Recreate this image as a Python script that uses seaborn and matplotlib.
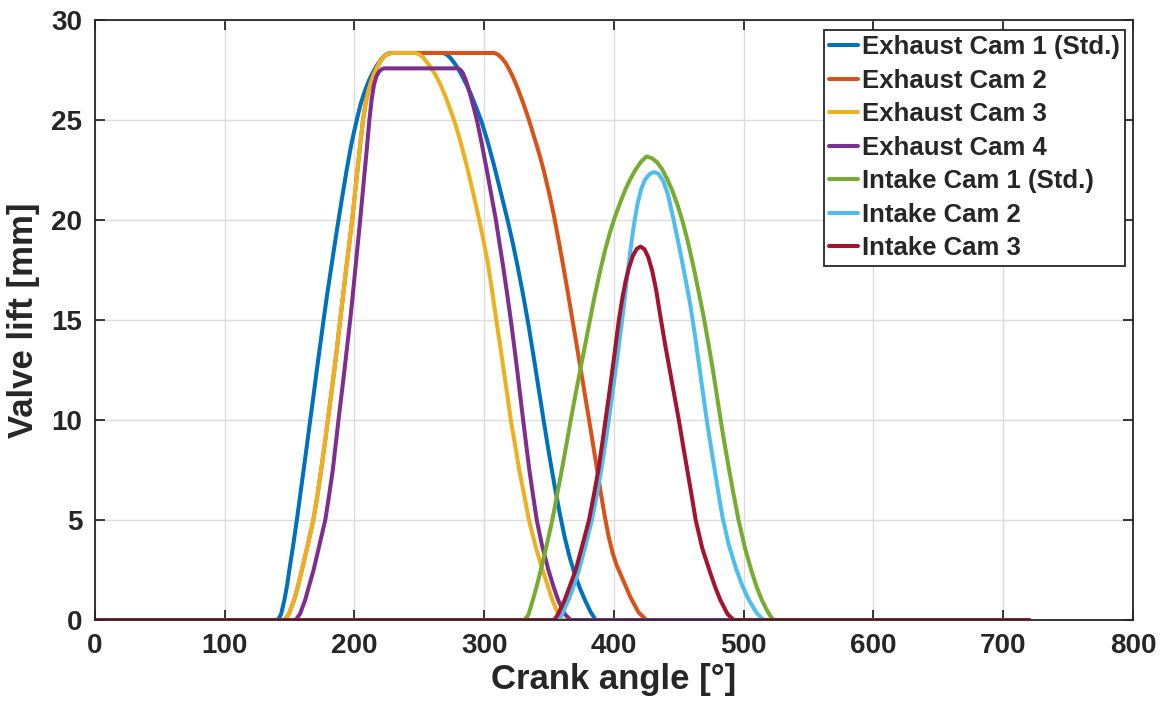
import matplotlib
matplotlib.use("Agg")
import matplotlib.pyplot as plt
from matplotlib.lines import Line2D
import pandas as pd
import seaborn as sns

# ---- valve lift profiles: crank angle [deg] vs lift [mm] ----
exh1_angle = [0, 141, 143.5, 146, 148, 149.8, 152.8, 155.6, 158.2, 160.8, 163.4, 165.9, 168.5,
              171, 173.6, 176.2, 178.9, 181.8, 184.7, 187.7, 190.8, 194, 197.5, 200, 202.5,
              205, 208, 211, 214, 217, 220, 223, 225.5, 228,
              268, 271, 274, 277, 280, 283, 286.5, 290, 294, 298, 302.5, 307.5, 312.5, 318,
              322, 326, 330, 334, 338, 342, 346, 350, 354, 358, 362, 366, 370, 374, 378,
              382, 386, 720]
exh1_lift = [0, 0, 0.3, 1.0, 1.7, 2.5, 3.75, 5, 6.25, 7.5, 8.75, 10, 11.25,
             12.5, 13.75, 15, 16.25, 17.5, 18.75, 20, 21.25, 22.5, 23.75, 24.5, 25.2,
             25.85, 26.45, 26.95, 27.35, 27.7, 27.98, 28.2, 28.31, 28.35,
             28.35, 28.28, 28.1, 27.85, 27.55, 27.2, 26.75, 26.25, 25.6, 24.9, 23.95, 22.75, 21.45, 20.0,
             18.85, 17.6, 16.25, 14.8, 13.2, 11.55, 9.9, 8.3, 6.8, 5.4, 4.15, 3.1, 2.25, 1.55, 0.95,
             0.4, 0, 0]

exh2_angle = [0, 146, 149.5, 153.5, 156.5, 159.5, 164, 168.3, 171.5, 174.3, 177, 179.5, 182,
              184.5, 186.8, 189, 191.3, 193.5, 195.9, 198.2, 200.3, 202.3, 204.4, 206.6, 208.5,
              210.5, 212.5, 215, 217.5, 220, 222.5, 225.5, 229,
              307.7, 310.5, 313.5, 316.5, 319.5, 322.5, 326, 330, 334, 338, 342, 346, 350,
              353.5, 357, 360.5, 364, 367.5, 371, 374.2, 377.4, 380.6, 383.7, 386.8, 389.9,
              393, 396, 399, 402, 405, 409, 413, 419, 425, 720]
exh2_lift = [0, 0, 0.3, 1.0, 1.7, 2.5, 3.75, 5, 6.25, 7.5, 8.75, 10, 11.25,
             12.5, 13.75, 15, 16.25, 17.5, 18.75, 20, 21.25, 22.5, 23.75, 25, 25.8,
             26.4, 26.85, 27.3, 27.65, 27.95, 28.15, 28.3, 28.35,
             28.35, 28.28, 28.1, 27.85, 27.5, 27.1, 26.55, 25.85, 25.1, 24.25, 23.4, 22.45, 21.35,
             20.3, 19.1, 17.85, 16.55, 15.2, 13.85, 12.6, 11.35, 10.1, 8.85, 7.6, 6.35,
             5.15, 4.15, 3.35, 2.75, 2.3, 1.7, 1.1, 0.38, 0, 0]

exh3_angle = [0, 146, 149.5, 153.5, 156.5, 159.5, 164, 168.3, 171.5, 174.3, 177, 179.5, 182,
              184.5, 186.8, 189, 191.3, 193.5, 195.9, 198.2, 200.3, 202.3, 204.4, 206.6, 208.5,
              210.5, 212.5, 215, 217.5, 220, 222.5, 225.5, 229,
              247, 250, 253, 256, 259, 262.5, 266, 270, 274, 277.7, 282, 287, 291.5, 296.2,
              299.5, 302.8, 306, 309.3, 312.2, 315, 317.8, 320.5, 323.8, 327, 330.8, 334.5,
              339.5, 345, 349, 352.5, 357, 360, 720]
exh3_lift = [0, 0, 0.3, 1.0, 1.7, 2.5, 3.75, 5, 6.25, 7.5, 8.75, 10, 11.25,
             12.5, 13.75, 15, 16.25, 17.5, 18.75, 20, 21.25, 22.5, 23.75, 25, 25.8,
             26.4, 26.85, 27.3, 27.65, 27.95, 28.15, 28.3, 28.35,
             28.35, 28.28, 28.12, 27.88, 27.6, 27.25, 26.8, 26.2, 25.5, 24.8, 23.85, 22.6, 21.35, 20.0,
             18.95, 17.85, 16.5, 15, 13.75, 12.5, 11.25, 10, 8.75, 7.5, 6.25, 5,
             3.7, 2.5, 1.7, 1.0, 0.3, 0, 0]

exh4_angle = [0, 154.6, 158, 162, 165, 168.5, 173, 177.5, 180.5, 183.3, 185.5, 187.7, 190,
              192.3, 194.5, 196.7, 198.7, 200.6, 202.5, 204.4, 206.2, 208, 209.8, 211.5, 213.2,
              215, 217, 219, 221, 223,
              279.5, 281.5, 283.5, 285.5, 287.5, 289.7, 292, 294.5, 298, 302, 305.5, 309, 312,
              315, 317.8, 320.5, 323, 325.4, 327.7, 330, 332.4, 334.8, 337.6, 340.5, 344.5,
              349.5, 353.5, 357, 362, 366.7, 720]
exh4_lift = [0, 0, 0.3, 1.0, 1.7, 2.5, 3.75, 5, 6.25, 7.5, 8.75, 10, 11.25,
             12.5, 13.75, 15, 16.25, 17.5, 18.75, 20, 21.25, 22.5, 23.75, 25, 26.0,
             26.75, 27.2, 27.42, 27.54, 27.58,
             27.58, 27.52, 27.35, 27.05, 26.65, 26.15, 25.6, 24.95, 23.85, 22.5, 21.25, 20, 18.75,
             17.5, 16.25, 15, 13.75, 12.5, 11.25, 10, 8.75, 7.5, 6.25, 5, 3.75,
             2.5, 1.65, 1.0, 0.3, 0, 0]

int1_angle = [0, 331, 334, 337.5, 340.5, 343.6, 348, 352.5, 356, 359.8, 363.3, 366.7, 370.3,
              374, 377.8, 381.5, 385, 389, 393, 397, 401, 405, 409, 413, 417, 421, 425,
              429, 433, 437, 441, 445, 449, 453, 457, 461, 465, 469, 473, 476.5,
              479.5, 482, 485, 488.5, 492, 496, 501, 506, 510, 514, 517, 520, 523, 720]
int1_lift = [0, 0, 0.25, 1.0, 1.7, 2.5, 3.7, 5, 6.2, 7.5, 8.75, 10, 11.25,
             12.5, 13.75, 15, 16.15, 17.35, 18.45, 19.4, 20.2, 20.9, 21.55, 22.1, 22.55, 22.92, 23.17,
             23.1, 22.9, 22.55, 22.05, 21.45, 20.75, 19.9, 18.9, 17.75, 16.5, 15.2, 13.75, 12.4,
             11.15, 10.1, 8.9, 7.6, 6.35, 5.0, 3.6, 2.45, 1.65, 1.0, 0.6, 0.25, 0, 0]

int2_angle = [0, 357, 360, 365, 369, 373, 378, 383, 386.8, 390.2, 393.2, 396, 398.7,
              401.3, 403.8, 406.3, 408.6, 410.8, 413.1, 415.5, 418, 421, 424, 427.5, 431,
              434.5, 438, 441.5, 446, 450.5, 455, 459, 462.5, 465.5, 468.5, 471.5, 474.5,
              477.5, 480.5, 483.5, 488.5, 494.5, 499, 504, 510, 515.4, 720]
int2_lift = [0, 0, 0.3, 1.0, 1.7, 2.5, 3.7, 5, 6.25, 7.5, 8.75, 10, 11.25,
             12.5, 13.75, 15, 16.25, 17.5, 18.7, 19.8, 20.75, 21.55, 22.02, 22.3, 22.4,
             22.3, 21.95, 21.3, 20.0, 18.6, 17.1, 15.7, 14.2, 12.8, 11.4, 10.0, 8.75,
             7.55, 6.35, 5.2, 3.75, 2.5, 1.7, 1.0, 0.35, 0, 0]

int3_angle = [0, 354, 357, 362, 366, 370.5, 375.5, 380.8, 384.5, 388, 390.8, 393.5, 396.2,
              398.8, 401.3, 403.8, 406.5, 409, 411.5, 414.5, 417.5, 420.5, 423.5, 426.5,
              429.5, 432.5, 436, 439.5, 443, 446.5, 450, 453.2, 456.5, 459.8, 463, 468,
              474, 478, 482, 487.5, 492.3, 720]
int3_lift = [0, 0, 0.3, 1.0, 1.7, 2.5, 3.7, 5, 6.25, 7.5, 8.75, 10, 11.25,
             12.5, 13.75, 15, 16.1, 16.95, 17.6, 18.2, 18.55, 18.67, 18.54, 18.13,
             17.45, 16.5, 15.1, 13.75, 12.5, 11.25, 10, 8.75, 7.5, 6.25, 5, 3.6,
             2.4, 1.65, 1.0, 0.3, 0, 0]

series_names = ["Exhaust Cam 1 (Std.)", "Exhaust Cam 2", "Exhaust Cam 3", "Exhaust Cam 4",
                "Intake Cam 1 (Std.)", "Intake Cam 2", "Intake Cam 3"]
series_angles = [exh1_angle, exh2_angle, exh3_angle, exh4_angle, int1_angle, int2_angle, int3_angle]
series_lifts = [exh1_lift, exh2_lift, exh3_lift, exh4_lift, int1_lift, int2_lift, int3_lift]

x_ticks = [0, 100, 200, 300, 400, 500, 600, 700, 800]
y_ticks = [0, 5, 10, 15, 20, 25, 30]

colors = ["#0072BD", "#D95319", "#EDB120", "#7E2F8E", "#77AC30", "#4DBEEE", "#A2142F"]

frames = []
for name, ang, lift in zip(series_names, series_angles, series_lifts):
    frames.append(pd.DataFrame({"angle": ang, "lift": lift, "cam": name}))
df = pd.concat(frames, ignore_index=True)

sns.set_style("ticks")
plt.rcParams["font.family"] = ["Liberation Sans", "DejaVu Sans"]
plt.rcParams["font.weight"] = "bold"

fig = plt.figure(figsize=(11.68, 7.13), dpi=100)
ax = fig.add_axes([0.0813, 0.1304, 0.8887, 0.8416])

line_w = 2.9
sns.lineplot(data=df, x="angle", y="lift", hue="cam", hue_order=series_names,
             palette=colors, estimator=None, sort=False, units="cam",
             linewidth=line_w, legend=False, ax=ax,
             solid_joinstyle="round", solid_capstyle="round")

ax.set_xlim(0, 800)
ax.set_ylim(0, 30)
ax.set_xticks(x_ticks)
ax.set_yticks(y_ticks)
ax.grid(True, color="#dcdcdc", linewidth=1.0)
ax.set_axisbelow(True)

axis_color = "#262626"
for sp in ax.spines.values():
    sp.set_visible(True)
    sp.set_color(axis_color)
    sp.set_linewidth(1.3)

ax.tick_params(axis="both", which="major", direction="in", length=7.5, width=1.3,
               color=axis_color, labelcolor=axis_color, labelsize=20,
               top=True, right=True, pad=9)
for lbl in ax.get_xticklabels() + ax.get_yticklabels():
    lbl.set_fontweight("bold")

ax.set_xlabel("Crank angle [°]", fontsize=25, fontweight="bold", color=axis_color, labelpad=3)
ax.set_ylabel("Valve lift [mm]", fontsize=25, fontweight="bold", color=axis_color, labelpad=8)

handles = [Line2D([], [], color=c, linewidth=line_w) for c in colors]
leg = ax.legend(handles, series_names, loc="upper right", bbox_to_anchor=(0.9975, 0.9915),
                frameon=True, fancybox=False, framealpha=1.0, edgecolor=axis_color,
                prop={"weight": "bold", "size": 18.5}, handlelength=1.15,
                handletextpad=0.15, labelspacing=0.37, borderpad=0.2, borderaxespad=0.2)
leg.get_frame().set_linewidth(1.3)

fig.savefig("out.png", dpi=100)
